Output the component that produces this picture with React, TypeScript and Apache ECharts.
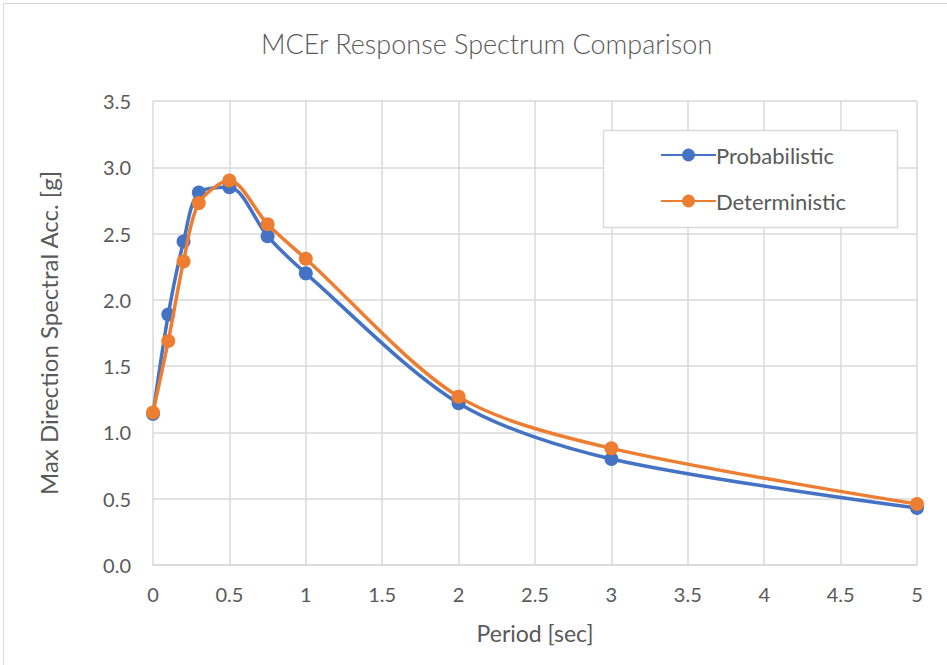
import React, { useEffect, useRef } from "react";
import * as echarts from "echarts";

const periods = [0, 0.1, 0.2, 0.3, 0.5, 0.75, 1, 2, 3, 5];
const probabilistic = [1.14, 1.89, 2.44, 2.81, 2.85, 2.48, 2.2, 1.22, 0.8, 0.43];
const deterministic = [1.15, 1.69, 2.29, 2.73, 2.9, 2.57, 2.31, 1.27, 0.88, 0.46];
const seriesNames = ["Probabilistic", "Deterministic"];
const colors = ["#4472C4", "#ED7D31"];

export default function App() {
  const ref = useRef<HTMLDivElement>(null);
  useEffect(() => {
    document.body.style.margin = "0";
    const chart = echarts.init(ref.current!, undefined, { renderer: "svg" });
    const font = "Lato, 'Open Sans', sans-serif";
    const mk = (vals: number[]) => periods.map((p, i) => [p, vals[i]]);
    chart.setOption({
      animation: false,
      backgroundColor: "#ffffff",
      textStyle: { fontFamily: font },
      title: {
        text: "MCEr Response Spectrum Comparison",
        left: 256,
        top: 25,
        textStyle: { fontFamily: font, fontSize: 27, fontWeight: 300, color: "#595959" },
      },
      graphic: [
        {
          type: "rect",
          shape: { x: 3.5, y: 3.5, width: 960, height: 680 },
          style: { fill: "none", stroke: "#d9d9d9", lineWidth: 1 },
          silent: true,
          z: -1,
        },
        {
          type: "rect",
          shape: { x: 603.5, y: 130.5, width: 294, height: 97 },
          style: { fill: "#ffffff", stroke: "#d9d9d9", lineWidth: 1.5 },
          silent: true,
          z: 5,
        },
      ],
      legend: {
        orient: "vertical",
        left: 655,
        top: 139,
        itemWidth: 55,
        itemHeight: 16,
        itemGap: 24,
        z: 10,
        data: seriesNames,
        textStyle: {
          fontFamily: font,
          fontSize: 22,
          lineHeight: 22,
          color: "#595959",
          padding: [0, 0, 0, -5],
        },
      },
      grid: { left: 153, right: 30, top: 101, bottom: 100, containLabel: false },
      xAxis: {
        type: "value",
        min: 0,
        max: 5,
        interval: 0.5,
        name: "Period [sec]",
        nameLocation: "middle",
        nameGap: 56,
        nameTextStyle: { fontFamily: font, fontSize: 23, color: "#595959" },
        axisLine: { show: true, lineStyle: { color: "#d9d9d9", width: 1.5 } },
        axisTick: { show: false },
        axisLabel: { fontFamily: font, fontSize: 20, color: "#595959", margin: 19 },
        splitLine: { show: true, lineStyle: { color: "#d9d9d9", width: 1.5 } },
      },
      yAxis: {
        type: "value",
        min: 0,
        max: 3.5,
        interval: 0.5,
        name: "Max Direction Spectral Acc. [g]",
        nameLocation: "middle",
        nameGap: 93,
        nameTextStyle: { fontFamily: font, fontSize: 24, color: "#595959" },
        axisLine: { show: false },
        axisTick: { show: false },
        axisLabel: {
          fontFamily: font,
          fontSize: 20,
          color: "#595959",
          margin: 22,
          formatter: (v: number) => v.toFixed(1),
        },
        splitLine: { show: true, lineStyle: { color: "#d9d9d9", width: 1.5 } },
      },
      series: [
        {
          name: seriesNames[0],
          type: "line",
          data: mk(probabilistic),
          smooth: 0.3,
          symbol: "circle",
          symbolSize: 14,
          itemStyle: { color: colors[0] },
          lineStyle: { color: colors[0], width: 3.5 },
          z: 2,
        },
        {
          name: seriesNames[1],
          type: "line",
          data: mk(deterministic),
          smooth: 0.3,
          symbol: "circle",
          symbolSize: 14,
          itemStyle: { color: colors[1] },
          lineStyle: { color: colors[1], width: 3.5 },
          z: 3,
        },
      ],
    });
    return () => chart.dispose();
  }, []);
  return <div ref={ref} style={{ width: 947, height: 665 }} />;
}
